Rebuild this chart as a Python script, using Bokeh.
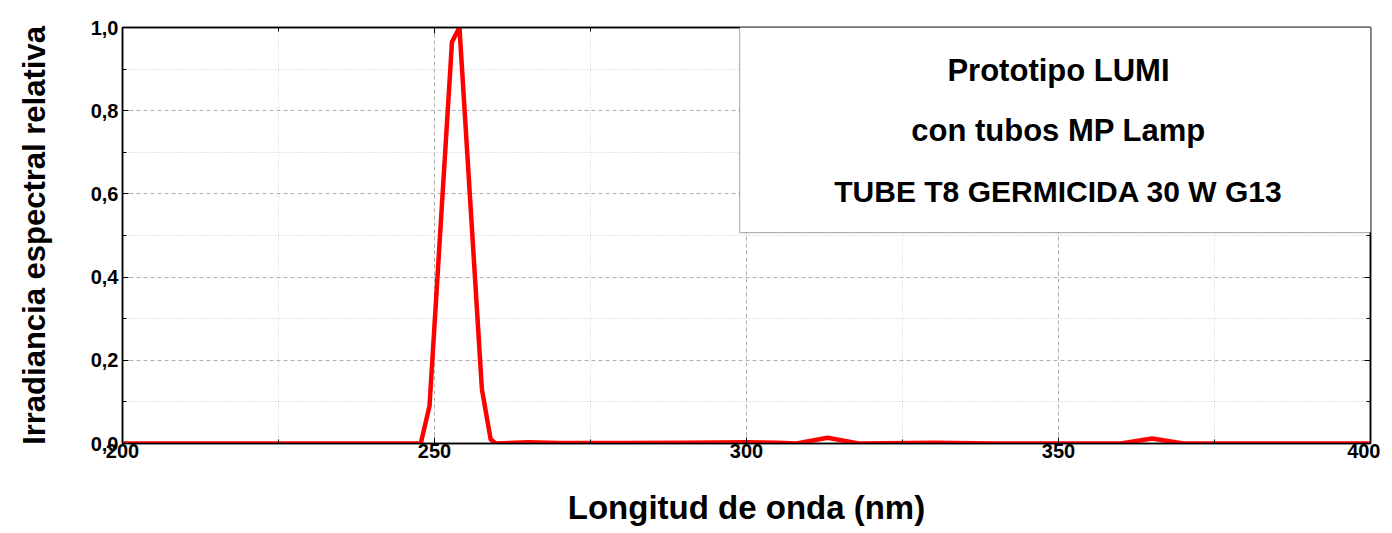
from bokeh.plotting import figure
from bokeh.models import Range1d, LinearAxis, FixedTicker, BoxAnnotation, Label
from bokeh.embed import file_html
from bokeh.resources import INLINE

wavelength_nm = [200, 247.8, 249.2, 252.8, 254.0, 257.6, 259.0, 259.8, 265, 270, 280,
                 290, 300, 305, 308, 313, 318, 330, 340, 360, 365, 370, 400]
irradiance = [0.0, 0.0, 0.09, 0.965, 1.0, 0.13, 0.01, 0.0, 0.003, 0.001, 0.001,
              0.002, 0.003, 0.002, 0.0, 0.014, 0.0, 0.002, 0.0, 0.0, 0.012, 0.0, 0.0]

x_ticks = [200, 250, 300, 350, 400]
x_minor = [225, 275, 325, 375]
x_tick_labels = ["200", "250", "300", "350", "400"]
y_ticks = [0.0, 0.2, 0.4, 0.6, 0.8, 1.0]
y_minor = [0.1, 0.3, 0.5, 0.7, 0.9]
y_tick_labels = ["0,0", "0,2", "0,4", "0,6", "0,8", "1,0"]

title_lines = ["Prototipo LUMI", "con tubos MP Lamp", "TUBE T8 GERMICIDA 30 W G13"]
title_y = [0.897, 0.752, 0.606]
title_x = 350

FONT = "Liberation Sans"

p = figure(width=1380, height=533, output_backend="svg", toolbar_location=None,
           x_range=Range1d(200, 400), y_range=Range1d(0, 1.0),
           min_border_left=122, min_border_right=10, min_border_top=27, min_border_bottom=90)
p.background_fill_color = "white"
p.border_fill_color = "white"
p.outline_line_color = "black"
p.outline_line_width = 1.5

xt = FixedTicker(ticks=x_ticks, minor_ticks=x_minor)
yt = FixedTicker(ticks=y_ticks, minor_ticks=y_minor)

for ax in p.xaxis:
    ax.ticker = xt
    ax.major_label_overrides = {t: l for t, l in zip(x_ticks, x_tick_labels)}
    ax.axis_label = "Longitud de onda (nm)"
for ax in p.yaxis:
    ax.ticker = yt
    ax.major_label_overrides = {t: l for t, l in zip(y_ticks, y_tick_labels)}
    ax.axis_label = "Irradiancia espectral relativa"

for ax in p.xaxis + p.yaxis:
    ax.axis_line_color = "black"
    ax.axis_line_width = 1.5
    ax.major_tick_in = 6
    ax.major_tick_out = 0
    ax.minor_tick_in = 4
    ax.minor_tick_out = 0
    ax.major_tick_line_color = "black"
    ax.minor_tick_line_color = "black"
    ax.major_label_text_font = FONT
    ax.major_label_text_font_style = "bold"
    ax.major_label_text_font_size = "20px"
    ax.major_label_text_color = "black"
    ax.axis_label_text_font = FONT
    ax.axis_label_text_font_style = "bold"
    ax.axis_label_text_color = "black"

p.xaxis.major_label_standoff = 0
p.xaxis.axis_label_standoff = 28
p.xaxis.axis_label_text_font_size = "33px"
p.yaxis.major_label_standoff = 4
p.yaxis.axis_label_standoff = 36
p.yaxis.axis_label_text_font_size = "31px"

top = LinearAxis(ticker=xt, major_label_overrides={t: "" for t in x_ticks},
                 major_tick_in=6, major_tick_out=0,
                 minor_tick_in=4, minor_tick_out=0, axis_line_width=1.5)
right = LinearAxis(ticker=yt, major_label_overrides={t: "" for t in y_ticks},
                   major_tick_in=6, major_tick_out=0,
                   minor_tick_in=4, minor_tick_out=0, axis_line_width=1.5)
p.add_layout(top, "above")
p.add_layout(right, "right")

p.xgrid.ticker = xt
p.ygrid.ticker = yt
for g in (p.xgrid[0], p.ygrid[0]):
    g.grid_line_color = "#b0b0b0"
    g.grid_line_dash = "4 3"
    g.grid_line_width = 1
    g.minor_grid_line_color = "#cccccc"
    g.minor_grid_line_dash = "1 2"
    g.minor_grid_line_width = 1

p.line(wavelength_nm, irradiance, line_color="#ff0000", line_width=4.5, line_join="round")

box = BoxAnnotation(left=298.9, right=400.8, bottom=0.507, top=1.002,
                    fill_color="white", fill_alpha=1.0, line_color="black", line_width=1.2)
p.add_layout(box)

for txt, ty, fs in zip(title_lines, title_y, ["31px", "31px", "30px"]):
    p.add_layout(Label(x=title_x, y=ty, text=txt, text_align="center", text_baseline="middle",
                       text_font=FONT, text_font_style="bold", text_font_size=fs,
                       text_color="black"))

open("out.html", "w").write(file_html(p, INLINE))
